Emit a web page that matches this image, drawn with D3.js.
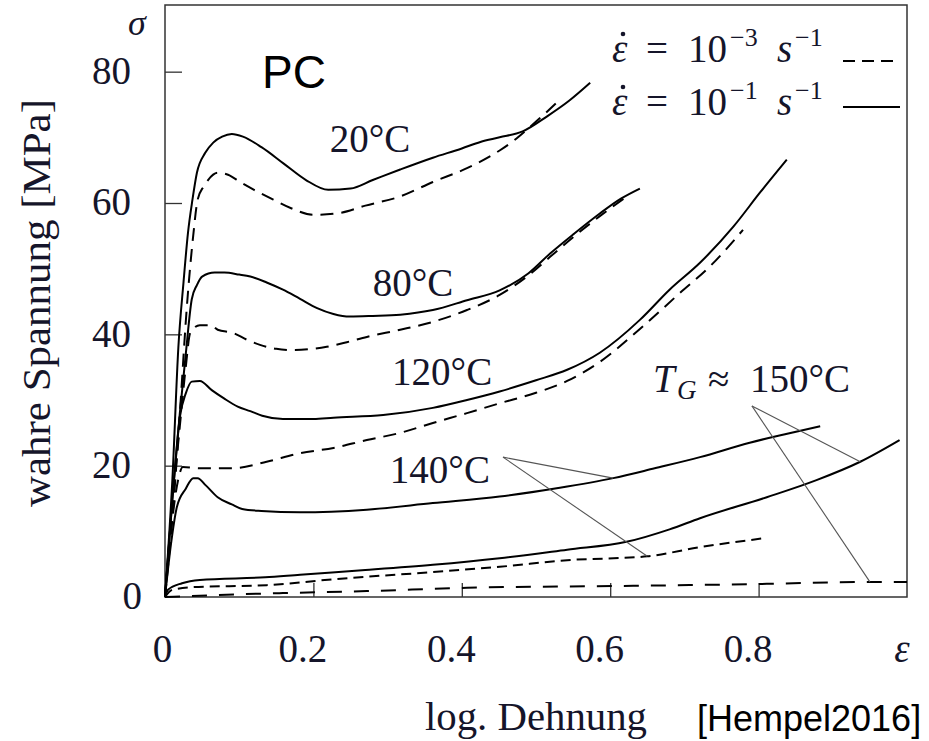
<!DOCTYPE html>
<html lang="de">
<head>
<meta charset="UTF-8">
<title>PC – wahre Spannung über log. Dehnung</title>
<script src="https://d3js.org/d3.v7.min.js"></script>
<style>
  body { margin: 0; background: #fff; }
  svg text { font-family: "Liberation Serif", "Times New Roman", serif; fill: #15152a; }
  svg text.sans { font-family: "Liberation Sans", Arial, sans-serif; fill: #000; }
  .it { font-style: italic; }
</style>
</head>
<body>
<svg width="929" height="741"></svg>
<script>
// ticks
const xTicks = [0, 0.2, 0.4, 0.6, 0.8];
const yTicks = [0, 20, 40, 60, 80];

// curves: [log. Dehnung, wahre Spannung MPa]
// fast = 10^-1 1/s (solid), slow = 10^-3 1/s (dashed)
const fast20 = [[0,0],[0.01,18],[0.018,38],[0.025,48],[0.031,55.5],[0.037,60.5],[0.043,64.6],[0.054,67.6],[0.065,69.2],[0.077,70.1],[0.09,70.5],[0.105,70.1],[0.13,68.5],[0.16,66],[0.19,63.5],[0.22,62],[0.25,62.2],[0.28,63.5],[0.317,65.1],[0.361,66.9],[0.4,68.3],[0.425,69.3],[0.451,70],[0.482,70.9],[0.515,73.2],[0.545,75.6],[0.573,78.3]];
const slow20 = [[0,0],[0.012,15],[0.02,28],[0.03,45],[0.038,55],[0.044,60.5],[0.052,62.5],[0.058,63.5],[0.071,64.6],[0.085,64.3],[0.101,63.2],[0.12,62],[0.146,60.5],[0.17,59.2],[0.2,58.2],[0.236,58.5],[0.27,59.6],[0.317,61],[0.361,63.2],[0.407,65.3],[0.451,68],[0.47,69.5],[0.49,71.4],[0.51,73.4],[0.53,75.5]];
const fast80 = [[0,0],[0.01,15],[0.02,28],[0.028,37],[0.036,45.3],[0.043,47.5],[0.05,48.8],[0.067,49.4],[0.08,49.4],[0.1,49.1],[0.115,48.8],[0.137,47.9],[0.159,46.8],[0.182,45.4],[0.205,44],[0.227,43.1],[0.249,42.7],[0.28,42.8],[0.317,43],[0.361,43.7],[0.407,45.2],[0.451,46.7],[0.49,49.3],[0.519,52.3],[0.55,55.2],[0.586,58.4],[0.615,60.7],[0.64,62.2]];
const slow80 = [[0,0],[0.01,14],[0.02,26],[0.028,35],[0.034,40.2],[0.047,41.4],[0.061,41.4],[0.071,40.7],[0.092,40.2],[0.11,39.2],[0.128,38.4],[0.15,37.8],[0.173,37.6],[0.2,37.8],[0.218,38.1],[0.245,38.8],[0.272,39.6],[0.317,40.7],[0.361,41.9],[0.407,43.7],[0.451,46],[0.49,49],[0.519,51.8],[0.55,54.8],[0.586,58],[0.625,61.2]];
const fast120 = [[0,0],[0.01,15],[0.02,27.4],[0.028,31],[0.036,32.8],[0.047,32.9],[0.063,31.5],[0.08,30.2],[0.098,29],[0.115,28.3],[0.131,27.6],[0.159,27.1],[0.2,27.1],[0.227,27.3],[0.294,27.7],[0.361,28.8],[0.407,30],[0.451,31.3],[0.5,33],[0.542,34.6],[0.586,37.2],[0.64,42.2],[0.68,46.8],[0.721,50.9],[0.766,56.4],[0.802,61.6],[0.838,66.6]];
const slow120 = [[0,0],[0.01,12],[0.018,18],[0.024,19.8],[0.047,19.6],[0.092,19.6],[0.137,20.6],[0.182,21.9],[0.227,22.7],[0.272,23.9],[0.317,25],[0.361,26.5],[0.407,28],[0.451,29.5],[0.5,31.1],[0.542,32.9],[0.586,35.8],[0.64,40.8],[0.694,46.3],[0.734,50.3],[0.779,55.9]];
const fast140 = [[0,0],[0.008,8],[0.016,13.7],[0.028,16.5],[0.038,18.1],[0.044,18.1],[0.055,17],[0.071,15.2],[0.09,14.1],[0.104,13.4],[0.13,13.1],[0.182,12.9],[0.272,13.3],[0.361,14.3],[0.451,15.3],[0.53,16.6],[0.604,18.1],[0.66,19.6],[0.721,21.3],[0.788,23.5],[0.84,24.9],[0.883,26]];
const slow140 = [[0,0],[0.01,1.1],[0.038,1.5],[0.137,1.8],[0.227,2.7],[0.361,3.8],[0.451,4.6],[0.542,5.6],[0.65,6.2],[0.721,7.6],[0.811,9]];
const fast150 = [[0,0],[0.004,1.1],[0.023,2.1],[0.047,2.6],[0.135,3],[0.182,3.4],[0.27,4.1],[0.361,4.9],[0.451,5.9],[0.542,7.2],[0.622,8.4],[0.68,10.3],[0.721,12],[0.811,15.2],[0.878,17.8],[0.937,20.6],[0.99,23.9]];
const slow150 = [[0,0],[0.07,0.3],[0.159,0.6],[0.272,0.9],[0.407,1.4],[0.631,1.7],[0.811,2],[0.946,2.3],[1.0,2.3]];

const curves = [
  { pts: fast20, dash: null }, { pts: slow20, dash: "13,8" },
  { pts: fast80, dash: null }, { pts: slow80, dash: "13,8" },
  { pts: fast120, dash: null }, { pts: slow120, dash: "13,8" },
  { pts: fast140, dash: null }, { pts: slow140, dash: "10,6" },
  { pts: fast150, dash: null }, { pts: slow150, dash: "15,12" },
];

// temperature labels and pointer lines (data coords)
const tempLabels = [
  { t: "20°C", x: 0.222, y: 67.7 },
  { t: "80°C", x: 0.28, y: 45.8 },
  { t: "120°C", x: 0.306, y: 32.3 },
  { t: "140°C", x: 0.303, y: 17.4 },
];
const pointers = [
  [[0.4555, 21.3], [0.604, 18.1]],
  [[0.4555, 21.3], [0.65, 6.2]],
  [[0.791, 29.1], [0.937, 20.6]],
  [[0.791, 29.1], [0.95, 2.3]],
];

const svg = d3.select("svg");
const x = d3.scaleLinear().domain([0, 1]).range([165, 907]);
const y = d3.scaleLinear().domain([0, 90]).range([597, 6]);

// frame
svg.append("rect")
  .attr("x", 165).attr("y", 5)
  .attr("width", 742).attr("height", 592)
  .attr("fill", "none").attr("stroke", "#333").attr("stroke-width", 1.5);

// axes, ticks pointing inwards
const gy = svg.append("g").attr("transform", "translate(165,0)")
  .call(d3.axisLeft(y).tickValues(yTicks).tickSize(-17).tickPadding(0));
const gx = svg.append("g").attr("transform", "translate(0,597)")
  .call(d3.axisBottom(x).tickValues(xTicks).tickSize(-14).tickPadding(0)
    .tickFormat(d => d === 0 ? "0" : d3.format(".1f")(d)));
[gy, gx].forEach(g => {
  g.select(".domain").remove();
  g.attr("font-size", null).attr("font-family", null);
  g.selectAll(".tick line").attr("stroke", "#333").attr("stroke-width", 1.3)
    .filter(d => d === 0).remove();
  g.selectAll(".tick text").style("font-size", "39px");
});
gy.selectAll(".tick text").attr("x", d => d === 0 ? -23 : -34).attr("dy", "0.3em");
gx.selectAll(".tick text").attr("y", 65).attr("dy", 0).attr("x", d => d === 0 ? -3 : -11);

// curves
const line = d3.line().x(d => x(d[0])).y(d => y(d[1])).curve(d3.curveMonotoneX);
svg.append("g").selectAll("path").data(curves).join("path")
  .attr("d", d => line(d.pts))
  .attr("fill", "none").attr("stroke", "#000").attr("stroke-width", 2)
  .attr("stroke-dasharray", d => d.dash);

// pointer lines
svg.append("g").selectAll("line").data(pointers).join("line")
  .attr("x1", d => x(d[0][0])).attr("y1", d => y(d[0][1]))
  .attr("x2", d => x(d[1][0])).attr("y2", d => y(d[1][1]))
  .attr("stroke", "#555").attr("stroke-width", 1.1);

// temperature labels
svg.append("g").selectAll("text").data(tempLabels).join("text")
  .attr("x", d => x(d.x)).attr("y", d => y(d.y))
  .style("font-size", "39px").text(d => d.t);

// T_G label
const tg = svg.append("text").attr("y", 392).style("font-size", "39px");
tg.append("tspan").attr("class", "it").attr("x", 653).text("T");
tg.append("tspan").attr("class", "it").attr("x", 677).attr("dy", 7).style("font-size", "27px").text("G");
tg.append("tspan").attr("x", 708).attr("dy", -7).text("≈");
tg.append("tspan").attr("x", 750).text("150°C");

// axis symbols and titles
svg.append("text").attr("class", "it").attr("x", 137).attr("y", 35)
  .attr("text-anchor", "middle").style("font-size", "36px").text("σ");
svg.append("text").attr("class", "it").attr("x", 902).attr("y", 662)
  .attr("text-anchor", "middle").style("font-size", "39px").text("ε");
svg.append("text").attr("transform", "translate(50,303) rotate(-90)")
  .attr("text-anchor", "middle").style("font-size", "39px")
  .attr("textLength", 408).attr("lengthAdjust", "spacingAndGlyphs")
  .text("wahre Spannung [MPa]");
svg.append("text").attr("x", 425).attr("y", 730)
  .style("font-size", "39px").attr("textLength", 222).attr("lengthAdjust", "spacingAndGlyphs")
  .text("log. Dehnung");

svg.append("text").attr("class", "sans").attr("x", 262).attr("y", 88)
  .style("font-size", "46px").text("PC");
svg.append("text").attr("class", "sans").attr("x", 697).attr("y", 731)
  .style("font-size", "36px").text("[Hempel2016]");

// legend
const legendRows = [
  { exp: "−3", base: 62, lineY: 61, dash: "12,7" },
  { exp: "−1", base: 115, lineY: 107, dash: null },
];
legendRows.forEach(r => {
  const t = svg.append("text").attr("y", r.base).style("font-size", "39px");
  t.append("tspan").attr("class", "it").attr("x", 612).text("ε");
  t.append("tspan").attr("x", 646).text("=");
  t.append("tspan").attr("x", 688).text("10");
  t.append("tspan").attr("x", 730).attr("dy", -16).style("font-size", "26px").text(r.exp);
  t.append("tspan").attr("class", "it").attr("x", 777).attr("dy", 16).text("s");
  t.append("tspan").attr("x", 795).attr("dy", -16).style("font-size", "26px").text("−1");
  // dot over epsilon (time derivative)
  svg.append("circle").attr("cx", 623).attr("cy", r.base - 28).attr("r", 2.3)
    .attr("fill", "#15152a");
  svg.append("line").attr("x1", 843).attr("x2", 900)
    .attr("y1", r.lineY).attr("y2", r.lineY)
    .attr("stroke", "#000").attr("stroke-width", 2.2)
    .attr("stroke-dasharray", r.dash);
});
</script>
</body>
</html>
